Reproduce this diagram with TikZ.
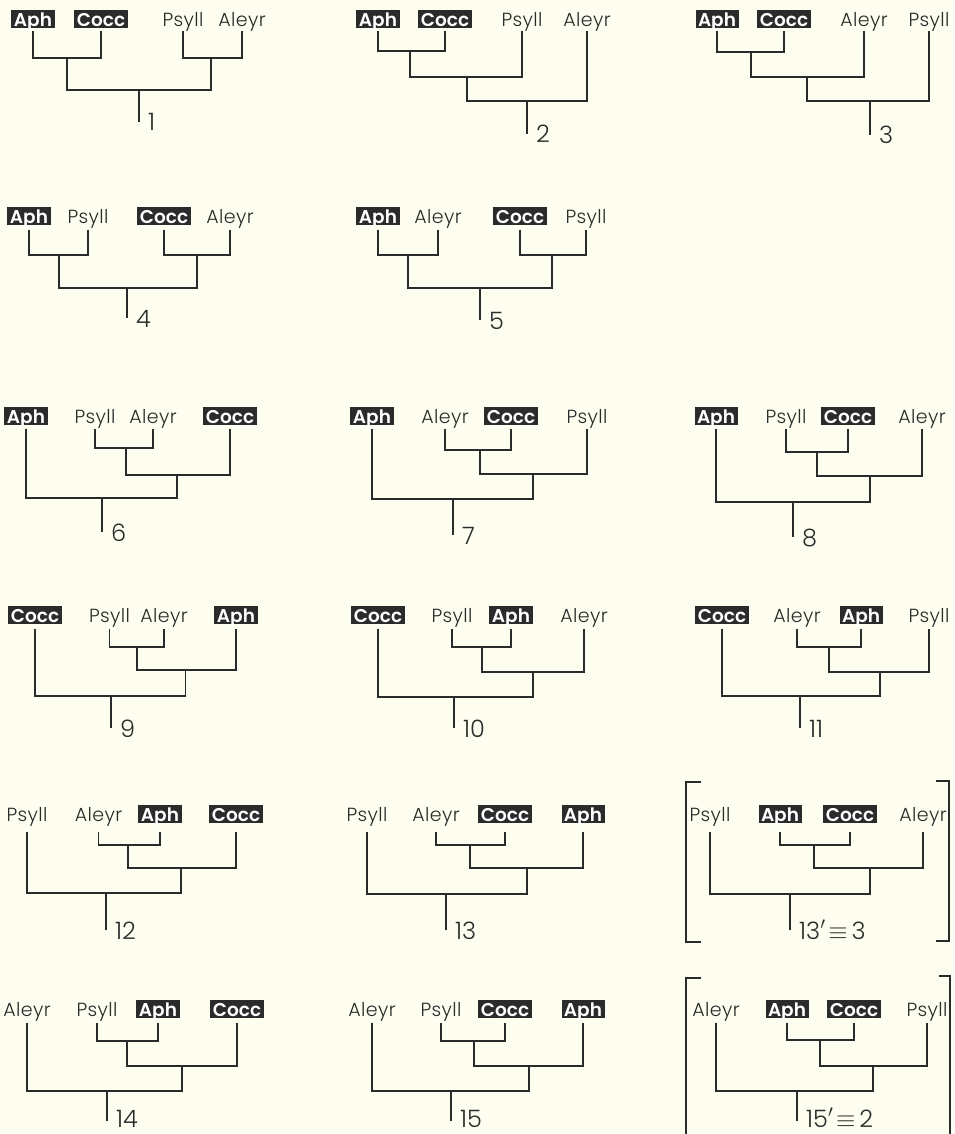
\documentclass[tikz,border=0pt]{standalone}
\usepackage{fontspec}
\setmainfont{Poppins}[UprightFont=* Light, BoldFont=* SemiBold]
\definecolor{bg}{HTML}{FEFEF0}
\definecolor{ink}{HTML}{2B2B2B}
\tikzset{
  lab/.style={anchor=base, inner xsep=2.5pt, inner ysep=0.5pt, outer sep=0pt, outer ysep=3.5pt,
    text height=15.5pt, text depth=1pt, font=\fontsize{19}{19}\selectfont\addfontfeature{LetterSpace=2}, text=ink},
  plainlab/.style={lab},
  hboxlab/.style={lab, fill=ink, text=white, font=\fontsize{18.5}{18.5}\selectfont\bfseries},
  brline/.style={draw=ink, line width=1.3pt},
  numlab/.style={anchor=base west, inner sep=0pt, font=\fontsize{24}{24}\selectfont, text=ink},
}
\newcommand{\leafT}[4]{\node[plainlab] (#1) at (#2,#3) {#4};}
\newcommand{\leafB}[4]{\node[hboxlab] (#1) at (#2,#3) {#4};}
\newcommand{\joinC}[5]{\coordinate (#1) at (#2,#3); \draw[brline] (#4) |- (#1) -| (#5);}
\newcommand{\rootC}[4]{\coordinate (#1e) at (#2,#3); \draw[brline] (#1) -- (#1e);
  \node[numlab] (#1n) at ([xshift=9pt,yshift=-9pt]#1e) {#4};}
\begin{document}
\begin{tikzpicture}[x=1pt,y=-1pt]
\fill[bg] (0,0) rectangle (954,1134);
\useasboundingbox (0,0) rectangle (954,1134);

% ---------- row 1 ----------
\begin{scope}[lab/.append style={outer ysep=3.5pt}]
\leafB{a1}{33}{26.5}{Aph}
\leafB{b1}{101}{26.5}{Cocc}
\leafT{c1}{183}{26.5}{Psyll}
\leafT{d1}{242}{26.5}{Aleyr}
\joinC{p1}{67}{58}{a1.south}{b1.south}
\joinC{q1}{211}{58}{c1.south}{d1.south}
\joinC{s1}{139}{90}{p1}{q1}
\rootC{s1}{139}{122}{1}

\leafB{a2}{378}{26.5}{Aph}
\leafB{b2}{445}{26.5}{Cocc}
\leafT{c2}{522}{26.5}{Psyll}
\leafT{d2}{587}{26.5}{Aleyr}
\joinC{p2}{410}{51}{a2.south}{b2.south}
\joinC{q2}{467}{77}{p2}{c2.south}
\joinC{s2}{527}{101}{q2}{d2.south}
\rootC{s2}{527}{134}{2}

\leafB{a3}{717}{26.5}{Aph}
\leafB{b3}{784}{26.5}{Cocc}
\leafT{c3}{864}{26.5}{Aleyr}
\leafT{d3}{929}{26.5}{Psyll}
\joinC{p3}{751}{52}{a3.south}{b3.south}
\joinC{q3}{807}{77}{p3}{c3.south}
\joinC{s3}{870}{101}{q3}{d3.south}
\rootC{s3}{870}{135}{3}
\end{scope}

% ---------- row 2 ----------
\begin{scope}[lab/.append style={outer ysep=5pt}]
\leafB{a4}{29}{223}{Aph}
\leafT{b4}{88}{223}{Psyll}
\leafB{c4}{164}{223}{Cocc}
\leafT{d4}{230}{223}{Aleyr}
\joinC{p4}{59}{255}{a4.south}{b4.south}
\joinC{q4}{197}{255}{c4.south}{d4.south}
\joinC{s4}{127}{288}{p4}{q4}
\rootC{s4}{127}{318}{4}

\leafB{a5}{378}{223}{Aph}
\leafT{b5}{438}{223}{Aleyr}
\leafB{c5}{520}{223}{Cocc}
\leafT{d5}{586}{223}{Psyll}
\joinC{p5}{408}{255}{a5.south}{b5.south}
\joinC{q5}{552}{255}{c5.south}{d5.south}
\joinC{s5}{480}{288}{p5}{q5}
\rootC{s5}{480}{320}{5}
\end{scope}

% ---------- row 3 ----------
\begin{scope}[lab/.append style={outer ysep=4pt}]
\leafB{a6}{26}{423}{Aph}
\leafT{b6}{95}{423}{Psyll}
\leafT{c6}{153}{423}{Aleyr}
\leafB{d6}{230}{423}{Cocc}
\joinC{p6}{126}{448}{b6.south}{c6.south}
\joinC{q6}{177}{475}{p6}{d6.south}
\joinC{s6}{102}{498}{a6.south}{q6}
\rootC{s6}{102}{532}{6}

\leafB{a7}{372}{423}{Aph}
\leafT{b7}{445}{423}{Aleyr}
\leafB{c7}{511}{423}{Cocc}
\leafT{d7}{587}{423}{Psyll}
\joinC{p7}{480}{450}{b7.south}{c7.south}
\joinC{q7}{533}{474}{p7}{d7.south}
\joinC{s7}{453}{499}{a7.south}{q7}
\rootC{s7}{453}{535}{7}

\leafB{a8}{716}{423}{Aph}
\leafT{b8}{786}{423}{Psyll}
\leafB{c8}{848}{423}{Cocc}
\leafT{d8}{922}{423}{Aleyr}
\joinC{p8}{817}{452}{b8.south}{c8.south}
\joinC{q8}{870}{476}{p8}{d8.south}
\joinC{s8}{793}{502}{a8.south}{q8}
\rootC{s8}{793}{537}{8}
\end{scope}

% ---------- row 4 ----------
\begin{scope}[lab/.append style={outer ysep=5pt}]
\leafB{a9}{35}{622}{Cocc}
\leafT{b9}{109.5}{622}{Psyll}
\leafT{c9}{164}{622}{Aleyr}
\leafB{d9}{236}{622}{Aph}
\joinC{p9}{137}{647}{b9.south}{c9.south}
\joinC{q9}{185.5}{670}{p9}{d9.south}
\joinC{s9}{111}{696}{a9.south}{q9}
\rootC{s9}{111}{728}{9}

\leafB{a10}{378}{622}{Cocc}
\leafT{b10}{452}{622}{Psyll}
\leafB{c10}{511}{622}{Aph}
\leafT{d10}{584}{622}{Aleyr}
\joinC{p10}{482}{647}{b10.south}{c10.south}
\joinC{q10}{533}{672}{p10}{d10.south}
\joinC{s10}{454}{697}{a10.south}{q10}
\rootC{s10}{454}{728}{10}

\leafB{a11}{722}{622}{Cocc}
\leafT{b11}{797}{622}{Aleyr}
\leafB{c11}{861}{622}{Aph}
\leafT{d11}{929}{622}{Psyll}
\joinC{p11}{829}{647}{b11.south}{c11.south}
\joinC{q11}{880}{672}{p11}{d11.south}
\joinC{s11}{800}{696}{a11.south}{q11}
\rootC{s11}{800}{728}{11}
\end{scope}

% ---------- row 5 ----------
\begin{scope}[lab/.append style={outer ysep=9pt}]
\leafT{a12}{27}{821}{Psyll}
\leafT{b12}{98.5}{821}{Aleyr}
\leafB{c12}{160}{821}{Aph}
\leafB{d12}{236}{821}{Cocc}
\joinC{p12}{128}{845}{b12.south}{c12.south}
\joinC{q12}{181}{868}{p12}{d12.south}
\joinC{s12}{106}{893}{a12.south}{q12}
\rootC{s12}{106}{930}{12}

\leafT{a13}{367}{821}{Psyll}
\leafT{b13}{436}{821}{Aleyr}
\leafB{c13}{505}{821}{Cocc}
\leafB{d13}{583}{821}{Aph}
\joinC{p13}{470}{845}{b13.south}{c13.south}
\joinC{q13}{527}{868}{p13}{d13.south}
\joinC{s13}{446}{894}{a13.south}{q13}
\rootC{s13}{446}{930}{13}

\leafT{a13p}{710}{821}{Psyll}
\leafB{b13p}{780}{821}{Aph}
\leafB{c13p}{850}{821}{Cocc}
\leafT{d13p}{923}{821}{Aleyr}
\joinC{p13p}{814}{845}{b13p.south}{c13p.south}
\joinC{q13p}{870}{868}{p13p}{d13p.south}
\joinC{s13p}{790}{894}{a13p.south}{q13p}
\rootC{s13p}{790}{930}{13$'\!\equiv$\,3}
\end{scope}
\draw[brline] (701,782) -- (686,782) -- (686,942) -- (701,942);
\draw[brline] (936,781) -- (949,781) -- (949,941) -- (936,941);

% ---------- row 6 ----------
\begin{scope}[lab/.append style={outer ysep=5pt}, numlab/.append style={yshift=3pt}]
\leafT{a14}{27}{1016}{Aleyr}
\leafT{b14}{97}{1016}{Psyll}
\leafB{c14}{158}{1016}{Aph}
\leafB{d14}{237}{1016}{Cocc}
\joinC{p14}{127}{1041}{b14.south}{c14.south}
\joinC{q14}{182}{1066}{p14}{d14.south}
\joinC{s14}{107}{1091}{a14.south}{q14}
\rootC{s14}{107}{1121}{14}

\leafT{a15}{372}{1016}{Aleyr}
\leafT{b15}{441}{1016}{Psyll}
\leafB{c15}{505}{1016}{Cocc}
\leafB{d15}{583}{1016}{Aph}
\joinC{p15}{474}{1041}{b15.south}{c15.south}
\joinC{q15}{529}{1066}{p15}{d15.south}
\joinC{s15}{451}{1091}{a15.south}{q15}
\rootC{s15}{451}{1121}{15}

\leafT{a15p}{716}{1016}{Aleyr}
\leafB{b15p}{787}{1016}{Aph}
\leafB{c15p}{854}{1016}{Cocc}
\leafT{d15p}{927}{1016}{Psyll}
\joinC{p15p}{820}{1040}{b15p.south}{c15p.south}
\joinC{q15p}{873}{1066}{p15p}{d15p.south}
\joinC{s15p}{797}{1091}{a15p.south}{q15p}
\rootC{s15p}{797}{1121}{15$'\!\equiv$\,2}
\end{scope}
\draw[brline] (701,978) -- (686,978) -- (686,1140);
\draw[brline] (939,976) -- (950,976) -- (950,1140);
\end{tikzpicture}
\end{document}
